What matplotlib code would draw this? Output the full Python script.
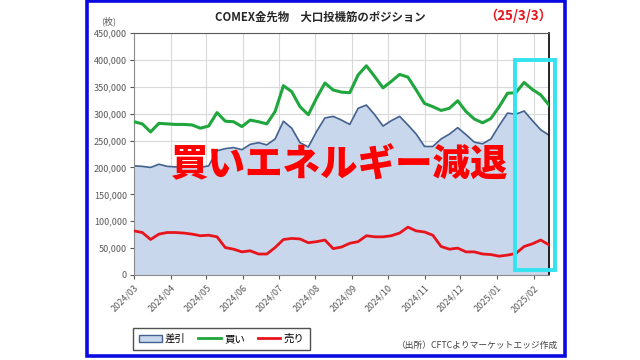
import matplotlib
matplotlib.use('Agg')
import matplotlib.pyplot as plt
import matplotlib.dates as mdates
from matplotlib.patches import Rectangle, Patch
from matplotlib.lines import Line2D
import numpy as np
import pandas as pd

plt.rcParams['font.family'] = ['Noto Sans CJK JP', 'DejaVu Sans']

# weekly COT data, long / short / net (contracts)
dates = pd.date_range('2024-03-05', periods=51, freq='7D')
buy = [285000, 281000, 266000, 282000, 281000, 280000, 280000, 279000, 273000, 277000,
       302000, 286000, 285000, 276000, 288000, 285000, 281000, 304000, 352000, 341000,
       313000, 298000, 329000, 357000, 344000, 340000, 339000, 372000, 389000, 369000,
       348000, 360000, 373000, 368000, 344000, 319000, 313000, 306000, 310000, 324000,
       304000, 290000, 283000, 291000, 313000, 338000, 339000, 358000, 345000, 335000,
       316000]
sell = [82000, 79000, 66000, 76000, 79000, 79000, 78000, 76000, 73000, 74000,
        71000, 51000, 48000, 43000, 45000, 39000, 39000, 51000, 66000, 68000,
        67000, 60000, 62000, 65000, 49000, 52000, 59000, 62000, 73000, 71000,
        71000, 73000, 78000, 89000, 82000, 80000, 74000, 53000, 48000, 50000,
        43000, 43000, 39000, 38000, 35000, 37000, 40000, 53000, 58000, 65000,
        56000]
net = [203000, 202000, 200000, 206000, 202000, 201000, 202000, 203000, 200000, 203000,
       231000, 235000, 237000, 233000, 243000, 246000, 242000, 253000, 286000, 273000,
       246000, 238000, 267000, 292000, 295000, 288000, 280000, 310000, 316000, 298000,
       277000, 287000, 295000, 279000, 262000, 239000, 239000, 253000, 262000, 274000,
       261000, 247000, 244000, 253000, 278000, 301000, 299000, 305000, 287000, 270000,
       260000]

tick_dates = pd.date_range('2024-03-05', periods=12, freq=pd.DateOffset(months=1))
tick_labels = [d.strftime('%Y/%m') for d in tick_dates]

W, H = 640, 360
fig = plt.figure(figsize=(6.4, 3.6), dpi=100)
fig.patch.set_facecolor('white')

# outer blue window frame
fig.patches.append(Rectangle((87 / W, 1 - 356 / H), (565 - 87) / W, 355 / H,
                             transform=fig.transFigure, fill=False,
                             edgecolor='#0A0AE0', linewidth=2.6, zorder=0))

ax = fig.add_axes([134 / W, 1 - 275 / H, (549 - 134) / W, (275 - 33) / H])

ax.fill_between(dates, net, 0, color='#C9D7EC', zorder=1)
ax.plot(dates, net, color='#44628F', lw=1.2, zorder=2)
ax.plot(dates, buy, color='#1FA63C', lw=2.2, zorder=3)
ax.plot(dates, sell, color='#E8141C', lw=2.0, zorder=3)
ax.axvline(dates[0], color='#44628F', lw=1.2, zorder=2)

ax.set_xlim(dates[0], dates[-1])
ax.set_ylim(0, 450000)
ax.set_yticks(np.arange(0, 450001, 50000))
ax.set_yticklabels([f'{v:,}' for v in range(0, 450001, 50000)])
ax.set_xticks(tick_dates)
ax.set_xticklabels(tick_labels, rotation=45, ha='right', rotation_mode='anchor')
ax.tick_params(axis='both', labelsize=6.5, colors='#595959', length=3, pad=2)
ax.tick_params(axis='x', pad=3)
ax.grid(True, color='#D9D9D9', lw=0.8, zorder=0)
ax.set_axisbelow(True)
for s in ['left', 'bottom']:
    ax.spines[s].set_color('#8C8C8C')
ax.spines['top'].set_color('#595959')
ax.spines['right'].set_color('#000000')
ax.spines['right'].set_linewidth(1.2)

# highlight box over the last weeks
ax.add_patch(Rectangle((mdates.date2num(pd.Timestamp('2025-01-20')), 9000), 34, 391000,
                       fill=False, edgecolor='#33E3F0', lw=2.8, zorder=5, clip_on=False))

fig.text(320 / W, 1 - 17 / H, 'COMEX金先物　大口投機筋のポジション', ha='center', va='center',
         fontsize=8.2, color='#262626', fontweight='bold')
fig.text(518 / W, 1 - 16 / H, '（25/3/3）', ha='center', va='center',
         fontsize=9.5, color='#E8141C', fontweight='bold')
fig.text(109 / W, 1 - 21 / H, '(枚)', ha='center', va='center', fontsize=6.5, color='#595959')
fig.text(339 / W, 1 - 165 / H, '買いエネルギー減退', ha='center', va='center',
         fontsize=27, color='#FF0000', fontweight='heavy', zorder=6)
fig.text(558 / W, 1 - 345 / H, '（出所）CFTCよりマーケットエッジ作成', ha='right', va='center',
         fontsize=6.3, color='#404040')

handles = [Patch(facecolor='#C9D7EC', edgecolor='#44628F', label='差引'),
           Line2D([], [], color='#1FA63C', lw=2, label='買い'),
           Line2D([], [], color='#E8141C', lw=2, label='売り')]
leg = fig.legend(handles=handles, loc='lower left', bbox_to_anchor=(128 / W, 1 - 355 / H),
                 ncol=3, fontsize=7.5, frameon=True, fancybox=False, edgecolor='#262626',
                 handlelength=2.2, handletextpad=0.3, columnspacing=1.2,
                 borderpad=0.55)
leg.get_frame().set_linewidth(1.0)

fig.savefig('out.png', dpi=100)
